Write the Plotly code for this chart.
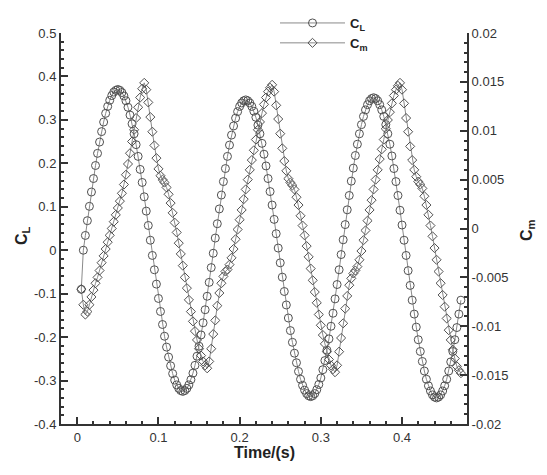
import plotly.graph_objects as go

# sampling of the time series (s)
t_start = 0.005
t_step = 0.0025

# lift coefficient C_L (left axis)
cl = [
    -0.09,
    0.0, 0.034, 0.068, 0.101, 0.134, 0.165, 0.195, 0.223, 0.249, 0.273, 0.295, 0.315, 0.331, 0.345, 0.356, 0.364, 0.368, 0.370,
    0.368, 0.363, 0.355, 0.344, 0.329, 0.311, 0.291, 0.268, 0.243, 0.216, 0.186, 0.156, 0.123, 0.090, 0.057, 0.023,
    -0.012, -0.045, -0.078, -0.111, -0.141, -0.171, -0.198, -0.223, -0.246, -0.266, -0.284, -0.299, -0.310, -0.318, -0.323, -0.325,
    -0.323, -0.318, -0.310, -0.298, -0.283, -0.265, -0.244, -0.221, -0.195, -0.167, -0.137, -0.106, -0.074, -0.040, -0.007,
    0.028, 0.061, 0.095, 0.127, 0.158, 0.188, 0.216, 0.242, 0.265, 0.286, 0.304, 0.319, 0.331, 0.339, 0.344, 0.346,
    0.344, 0.339, 0.331, 0.320, 0.306, 0.288, 0.268, 0.246, 0.221, 0.194, 0.165, 0.135, 0.104, 0.071, 0.038, 0.005,
    -0.029, -0.062, -0.095, -0.126, -0.156, -0.185, -0.212, -0.237, -0.259, -0.279, -0.297, -0.311, -0.322, -0.330, -0.335, -0.337,
    -0.335, -0.330, -0.321, -0.309, -0.294, -0.275, -0.254, -0.230, -0.204, -0.175, -0.145, -0.112, -0.079, -0.045, -0.010,
    0.024, 0.059, 0.093, 0.126, 0.159, 0.189, 0.218, 0.244, 0.268, 0.289, 0.308, 0.323, 0.335, 0.344, 0.349, 0.351,
    0.349, 0.344, 0.335, 0.323, 0.308, 0.289, 0.268, 0.244, 0.217, 0.188, 0.158, 0.126, 0.092, 0.058, 0.023,
    -0.012, -0.047, -0.081, -0.115, -0.147, -0.177, -0.206, -0.233, -0.256, -0.278, -0.297, -0.312, -0.324, -0.333, -0.338, -0.340,
    -0.338, -0.333, -0.324, -0.312, -0.297, -0.278, -0.257, -0.233, -0.206, -0.178, -0.147, -0.115,
]

# moment coefficient C_m (right axis)
cm = [
    -0.0062, -0.0078,
    -0.0088, -0.0085, -0.0078, -0.0070, -0.0063, -0.0056, -0.0050, -0.0043, -0.0035, -0.0028, -0.0021, -0.0014, -0.0007, 0.0000,
    0.0007, 0.0014, 0.0021, 0.0028, 0.0036, 0.0045, 0.0055, 0.0066, 0.0077, 0.0089, 0.0101, 0.0113, 0.0124, 0.0134, 0.0143, 0.0149,
    0.0142, 0.0129, 0.0114, 0.0099, 0.0085, 0.0072, 0.0061, 0.0054, 0.0050, 0.0047, 0.0042, 0.0035, 0.0026, 0.0016, 0.0006,
    -0.0004, -0.0015, -0.0026, -0.0038, -0.0050, -0.0061, -0.0073, -0.0085, -0.0095, -0.0105, -0.0114, -0.0123, -0.0130, -0.0136, -0.0140, -0.0143,
    -0.0136, -0.0123, -0.0108, -0.0094, -0.0079, -0.0066, -0.0056, -0.0049, -0.0044, -0.0042, -0.0037, -0.0030, -0.0021, -0.0011, -0.0001,
    0.0009, 0.0019, 0.0030, 0.0040, 0.0050, 0.0060, 0.0070, 0.0080, 0.0091, 0.0101, 0.0109, 0.0118, 0.0127, 0.0134, 0.0140, 0.0144, 0.0147,
    0.0140, 0.0126, 0.0112, 0.0097, 0.0082, 0.0069, 0.0059, 0.0051, 0.0047, 0.0044, 0.0040, 0.0032, 0.0024, 0.0013, 0.0003,
    -0.0007, -0.0018, -0.0029, -0.0041, -0.0053, -0.0065, -0.0076, -0.0088, -0.0099, -0.0109, -0.0118, -0.0126, -0.0134, -0.0140, -0.0144, -0.0147,
    -0.0140, -0.0126, -0.0112, -0.0097, -0.0082, -0.0069, -0.0058, -0.0051, -0.0046, -0.0043, -0.0039, -0.0032, -0.0023, -0.0012, -0.0002,
    0.0008, 0.0019, 0.0029, 0.0040, 0.0050, 0.0060, 0.0071, 0.0081, 0.0091, 0.0102, 0.0111, 0.0119, 0.0128, 0.0136, 0.0142, 0.0146, 0.0149,
    0.0142, 0.0128, 0.0113, 0.0099, 0.0084, 0.0070, 0.0060, 0.0053, 0.0048, 0.0045, 0.0041, 0.0033, 0.0024, 0.0014, 0.0003,
    -0.0008, -0.0020, -0.0032, -0.0044, -0.0056, -0.0068, -0.0080, -0.0092, -0.0104, -0.0114, -0.0124, -0.0133, -0.0141, -0.0145, -0.0148,
]

# tick labels
x_tickvals = [0, 0.1, 0.2, 0.3, 0.4]
x_ticktext = ["0", "0.1", "0.2", "0.3", "0.4"]
cl_tickvals = [0.5, 0.4, 0.3, 0.2, 0.1, 0, -0.1, -0.2, -0.3, -0.4]
cl_ticktext = ["0.5", "0.4", "0.3", "0.2", "0.1", "0", "-0.1", "-0.2", "-0.3", "-0.4"]
cm_tickvals = [0.02, 0.015, 0.01, 0.005, 0, -0.005, -0.01, -0.015, -0.02]
cm_ticktext = ["0.02", "0.015", "0.01", "0.005", "0", "-0.005", "-0.01", "-0.015", "-0.02"]

# axis titles
x_title = "<b>Time/(s)</b>"
cl_title = "<b>C<sub>L</sub></b>"
cm_title = "<b>C<sub>m</sub></b>"

axis_color = "#333333"
font_family = "Liberation Sans, Arial, sans-serif"
tick_font = dict(family=font_family, size=13, color="#333333")
title_font = dict(family=font_family, size=16, color="#222222")

# The page body adds an 8 px offset, so the figure is 531x459 and
# the axes box spans figure pixels x 53..459, y 25..416.
W, H = 531, 459
ml, mr, mt, mb = 53, 72, 0, 43
pw, ph = W - ml - mr, H - mt - mb
y_top = (H - mb - 25) / ph


def px_x(p):
    return (p - ml) / pw


def px_y(p):
    return (H - mb - p) / ph


fig = go.Figure()
fig.add_trace(go.Scatter(
    x0=t_start, dx=t_step, y=cl, name=cl_title, mode="lines+markers",
    line=dict(color="#8a8a8a", width=1),
    marker=dict(symbol="circle-open", size=8, color="#505050", line=dict(width=1)),
))
fig.add_trace(go.Scatter(
    x0=t_start, dx=t_step, y=cm, name=cm_title, mode="lines+markers", yaxis="y2",
    line=dict(color="#8a8a8a", width=1),
    marker=dict(symbol="diamond-open", size=7, color="#505050", line=dict(width=1)),
))

common = dict(showgrid=False, zeroline=False, showline=True, linewidth=2, linecolor=axis_color,
              ticks="inside", ticklen=7, tickwidth=2, tickcolor=axis_color, tickfont=tick_font,
              automargin=False)

fig.update_layout(
    width=W, height=H,
    margin=dict(l=ml, r=mr, t=mt, b=mb),
    paper_bgcolor="white", plot_bgcolor="white",
    showlegend=True,
    legend=dict(x=px_x(267), y=1.0, xanchor="left", yanchor="top",
                itemwidth=65, bgcolor="rgba(0,0,0,0)",
                font=dict(family=font_family, size=13, color="#222"),
                tracegroupgap=0),
    xaxis=dict(range=[-0.02, 0.48], tickmode="array", tickvals=x_tickvals, ticktext=x_ticktext,
               minor=dict(tickmode="linear", tick0=0, dtick=0.02, ticks="inside", ticklen=3, tickcolor=axis_color),
               **common),
    yaxis=dict(range=[-0.4, 0.5], domain=[0, y_top], tickmode="array", tickvals=cl_tickvals, ticktext=cl_ticktext,
               minor=dict(tickmode="linear", tick0=0, dtick=0.02, ticks="inside", ticklen=3, tickcolor=axis_color),
               **common),
    yaxis2=dict(range=[-0.02, 0.02], domain=[0, y_top], overlaying="y", side="right", tickmode="array",
                tickvals=cm_tickvals, ticktext=cm_ticktext,
                minor=dict(tickmode="linear", tick0=0, dtick=0.001, ticks="inside", ticklen=3, tickcolor=axis_color),
                **common),
    annotations=[
        dict(text=x_title, xref="paper", yref="paper", x=px_x(256), y=px_y(444),
             xanchor="center", yanchor="middle", showarrow=False, font=title_font),
        dict(text=cl_title, xref="paper", yref="paper", x=px_x(14), y=px_y(228),
             xanchor="center", yanchor="middle", showarrow=False, textangle=-90, font=title_font),
        dict(text=cm_title, xref="paper", yref="paper", x=px_x(519), y=px_y(222),
             xanchor="center", yanchor="middle", showarrow=False, textangle=-90, font=title_font),
    ],
)

fig.write_html("out.html")
